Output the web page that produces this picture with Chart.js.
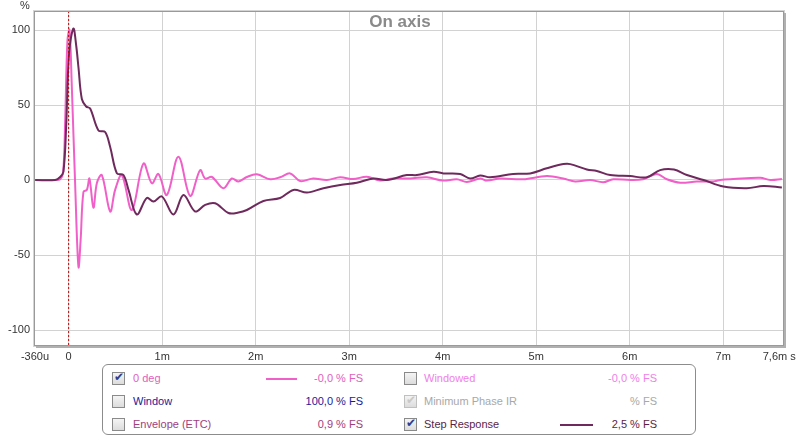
<!DOCTYPE html>
<html>
<head>
<meta charset="utf-8">
<script src="https://cdn.jsdelivr.net/npm/chart.js@4.4.1/dist/chart.umd.min.js"></script>
<style>
  html, body { margin:0; padding:0; background:#ffffff; }
  #wrap { position:relative; width:800px; height:438px; overflow:hidden; font-family:"Liberation Sans", Arial, sans-serif; }
  #c { position:absolute; left:0; top:0; }
  #legend { position:absolute; left:102px; top:364px; width:594px; height:71px; border:1px solid #8c8c8c; border-radius:6px; box-sizing:border-box; background:#fff; }
  .it { position:absolute; font-size:11px; line-height:13px; white-space:nowrap; }
  .cb { position:absolute; width:13px; height:13px; border:1px solid #8a8a8a; background:linear-gradient(#f4f4f4,#dcdcdc); box-sizing:border-box; }
  .cb.on::after { content:"\2714"; position:absolute; left:1px; top:-3px; font-size:12px; color:#2c3f8c; }
  .cb.dis { border-color:#c0c0c0; }
  .cb.dis::after { content:"\2714"; position:absolute; left:1px; top:-3px; font-size:12px; color:#c8c8c8; }
  .ln { position:absolute; height:2px; }
  .r { text-align:right; }
</style>
</head>
<body>
<div id="wrap">
  <canvas id="c" width="800" height="438"></canvas>
  <div id="legend"></div>
</div>
<script>
// ---- data (time in ms, value in %) ----
const impulseTime = [-0.358,-0.144,-0.091,-0.059,-0.037,-0.013,0.009,0.034,0.070,0.105,0.128,0.158,0.195,0.222,0.265,0.302,0.355,0.444,0.497,0.569,0.676,0.800,0.890,0.960,1.050,1.174,1.299,1.406,1.460,1.532,1.656,1.745,1.816,1.906,2.013,2.155,2.262,2.369,2.476,2.615,2.761,2.904,3.043,3.189,3.332,3.471,3.652,3.831,4.005,4.152,4.259,4.401,4.473,4.615,4.861,5.114,5.289,5.417,5.578,5.717,5.824,6.005,6.144,6.291,6.398,6.540,6.719,6.893,6.968,7.107,7.396,7.503,7.628];
const impulseValue = [0,0,0.5,5,40,93,100,62,-4,-58,-40,-8,-6.5,1,-18.5,-2,3.3,-21,-6.6,3.3,-20,11,-2.2,4,-10,15.5,-10.6,6.6,1,2,-5.5,1,-1,2,3.8,0.5,1.8,4.4,-0.7,1,0,1.8,0.6,2.2,-0.4,1,1,1.8,-0.4,0.5,-1.3,1,-0.4,1,0.5,2.6,1,-1,0,-1.5,0.5,0,0.5,4,0.5,-1.8,-1,-1,0,0.6,1.5,0,0.6];
const stepTime = [-0.358,-0.144,-0.091,-0.056,-0.027,0.005,0.051,0.080,0.105,0.141,0.187,0.230,0.319,0.390,0.444,0.516,0.586,0.640,0.729,0.836,0.907,0.997,1.121,1.228,1.353,1.460,1.567,1.709,1.816,1.906,2.083,2.262,2.404,2.548,2.725,2.904,3.082,3.260,3.403,3.617,3.724,3.902,4.009,4.187,4.294,4.401,4.508,4.754,4.936,5.114,5.292,5.364,5.542,5.649,5.791,6.005,6.184,6.326,6.474,6.612,6.790,7.003,7.254,7.431,7.628];
const stepValue = [0,0,2,5.5,35,85,101,90,75,54,49,47.7,33,32,22,4.4,3.3,-6.6,-23,-12,-14.4,-11,-23,-10,-21,-16.6,-15.5,-22,-21.7,-20,-14,-12,-6.6,-8.4,-5.5,-3.3,-1.8,1,0,3.3,3.3,5.5,4.4,4,1,3,1.8,4,4.4,7.8,10.6,10.6,7,6,3.3,2.6,1.8,6.6,7,3.3,0,-4.4,-5.5,-4,-5];
const markerTime = [0, 0];
const markerValue = [-110, 112];
const xTickValues = [-0.36,0,1,2,3,4,5,6,7,7.6];
const xTickLabels = ["-360u","0","1m","2m","3m","4m","5m","6m","7m","7,6m s"];
const yTickValues = [-100,-50,0,50,100];

const toPts = (t, v) => t.map((x, i) => ({x: x, y: v[i]}));

const framePlugin = {
  id: 'frame',
  beforeDraw(chart) {
    const c = chart.ctx; c.save(); c.fillStyle = '#fff'; c.fillRect(0,0,chart.width,chart.height); c.restore();
  },
  afterDraw(chart) {
    const a = chart.chartArea, c = chart.ctx;
    c.save();
    c.strokeStyle = '#d4d4d4'; c.lineWidth = 1;
    c.strokeRect(a.left - 1.5, a.top - 1.5, a.right - a.left + 3, a.bottom - a.top + 3);
    c.strokeStyle = '#9a9a9a'; c.lineWidth = 1;
    c.strokeRect(a.left - 0.5, a.top - 0.5, a.right - a.left + 1, a.bottom - a.top + 1);
    c.strokeStyle = '#b0b0b0'; c.lineWidth = 2;
    c.beginPath();
    c.moveTo(a.left + 1, a.bottom + 2); c.lineTo(a.right + 2, a.bottom + 2); c.lineTo(a.right + 2, a.top + 1);
    c.stroke();
    // title
    c.fillStyle = '#8a8a8a'; c.font = 'bold 17px "Liberation Sans", Arial, sans-serif';
    c.textAlign = 'center'; c.textBaseline = 'middle';
    c.fillText('On axis', 400, 22);
    // unit
    c.fillStyle = '#333'; c.font = '11px "Liberation Sans", Arial, sans-serif';
    c.textAlign = 'left';
    c.fillText('%', 20, 6);
    c.restore();
  }
};

new Chart(document.getElementById('c'), {
  type: 'line',
  data: {
    datasets: [
      { label: 'marker', data: toPts(markerTime, markerValue), borderColor: '#c00000', borderWidth: 1, borderDash: [2,2], pointRadius: 0, tension: 0 },
      { label: 'Step Response', data: toPts(stepTime, stepValue), borderColor: '#6e2a5c', borderWidth: 2, pointRadius: 0, tension: 0.35 },
      { label: '0 deg', data: toPts(impulseTime, impulseValue), borderColor: '#f060c8', borderWidth: 2, pointRadius: 0, tension: 0.35 }
    ]
  },
  options: {
    responsive: false, animation: false,
    layout: { padding: { top: 12, right: 17, left: 0, bottom: 0 } },
    plugins: { legend: { display: false }, title: { display: false }, tooltip: { enabled: false } },
    scales: {
      x: {
        type: 'linear', min: -0.36, max: 7.64,
        border: { display: false },
        grid: { color: (ctx) => (ctx.tick && (ctx.tick.value === -0.36 || ctx.tick.value === 7.6)) ? 'rgba(0,0,0,0)' : '#d2d2d2', lineWidth: 1, drawTicks: false },
        ticks: { autoSkip: false, maxRotation: 0, padding: 5, color: '#333', font: { family: '"Liberation Sans", Arial, sans-serif', size: 11 },
          callback: (v) => { const i = xTickValues.indexOf(v); return i >= 0 ? xTickLabels[i] : ''; } },
        afterBuildTicks: (s) => { s.ticks = xTickValues.map(v => ({ value: v })); },
        afterFit: (s) => { s.height = 93; s.paddingLeft = 0; s.paddingRight = 0; }
      },
      y: {
        min: -110, max: 112,
        border: { display: false },
        grid: { color: '#d2d2d2', lineWidth: 1, drawTicks: false },
        ticks: { padding: 5, color: '#333', font: { family: '"Liberation Sans", Arial, sans-serif', size: 11 } },
        afterBuildTicks: (s) => { s.ticks = yTickValues.map(v => ({ value: v })); },
        afterFit: (s) => { s.width = 35; s.paddingTop = 0; s.paddingBottom = 0; }
      }
    }
  },
  plugins: [framePlugin]
});

// ---- legend (HTML) ----
const legendRows = [
  [ { cb:'on', label:'0 deg', color:'#e060c0', line:'#f060c8', value:'-0,0 % FS' }, { cb:'', label:'Windowed', color:'#f080e8', value:'-0,0 % FS' } ],
  [ { cb:'', label:'Window', color:'#1a1a9a', value:'100,0 % FS' }, { cb:'dis', label:'Minimum Phase IR', color:'#a8a8a8', value:'% FS' } ],
  [ { cb:'', label:'Envelope (ETC)', color:'#a0407e', value:'0,9 % FS' }, { cb:'on', label:'Step Response', color:'#5a1e48', line:'#6e2a5c', value:'2,5 % FS' } ]
];
const lg = document.getElementById('legend');
const colX = [ { cb:9, text:30, line:163, lineW:31, valR:262 }, { cb:301, text:321, line:457, lineW:33, valR:556 } ];
legendRows.forEach((row, r) => {
  const cy = 13 + r * 23;
  row.forEach((it, ci) => {
    const k = colX[ci];
    const b = document.createElement('span'); b.className = 'cb' + (it.cb ? ' ' + it.cb : '');
    b.style.left = k.cb + 'px'; b.style.top = (cy - 6) + 'px'; lg.appendChild(b);
    const t = document.createElement('span'); t.className = 'it'; t.textContent = it.label; t.style.color = it.color;
    t.style.left = k.text + 'px'; t.style.top = (cy - 6) + 'px'; lg.appendChild(t);
    if (it.line) { const l = document.createElement('span'); l.className = 'ln'; l.style.left = k.line + 'px'; l.style.width = k.lineW + 'px'; l.style.top = (cy) + 'px'; l.style.background = it.line; lg.appendChild(l); }
    const v = document.createElement('span'); v.className = 'it r'; v.textContent = it.value; v.style.color = it.color;
    v.style.right = (594 - k.valR) + 'px'; v.style.top = (cy - 6) + 'px'; lg.appendChild(v);
  });
});
</script>
</body>
</html>
